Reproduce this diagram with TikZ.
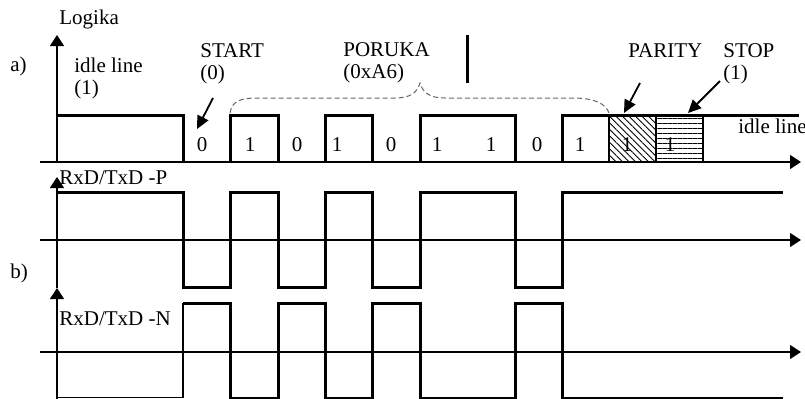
\documentclass[tikz,border=0pt]{standalone}
\usepackage{fontspec}
\setmainfont{Liberation Serif}
\usetikzlibrary{arrows.meta,patterns.meta}
\begin{document}
\begin{tikzpicture}[x=0.5pt,y=-0.5pt,
  lbl/.style={inner sep=0pt,anchor=base west,font=\fontsize{10.5}{12}\selectfont},
  bit/.style={inner sep=0pt,anchor=base,font=\fontsize{10.5}{12}\selectfont},
  sig/.style={line width=1.5pt,line join=miter},
  thinline/.style={line width=0.6pt},
  axis/.style={line width=0.6pt,-{Triangle[length=5.5pt,width=7pt]}},
  pointer/.style={line width=0.9pt,-{Triangle[length=6.5pt,width=6pt]}},
  brace/.style={line width=0.5pt,gray!80!black,dash pattern=on 2.5pt off 1.5pt},
]
\fill[white] (0,0) rectangle (805,398);
\useasboundingbox (0,0) rectangle (805,398);

% ---------- a) ----------
\node[lbl] (logika) at (59,24) {Logika};
\node[lbl] (a) at (10,71) {a)};
\node[lbl] (idle1) at (74,72) {idle line};
\node[lbl] (idle1v) at (74,94) {(1)};
\node[lbl] (start) at (200,57) {START};
\node[lbl] (startv) at (200,79) {(0)};
\node[lbl] (poruka) at (343,56) {PORUKA};
\node[lbl] (porukav) at (343,78) {(0xA6)};
\node[lbl] (parity) at (628,57) {PARITY};
\node[lbl] (stop) at (723,57) {STOP};
\node[lbl] (stopv) at (723,79) {(1)};
\node[lbl] (idle2) at (738,133) {idle line};

% axes
\coordinate (ax0) at (40,162);
\coordinate (ax1) at (801,162);
\coordinate (ay0) at (57,162);
\coordinate (ay1) at (57,35);
\draw[axis] (ax0) -- (ax1);
\draw[axis] (ay0) -- (ay1);

% hatched parity and stop bits
\fill[pattern={Lines[angle=-45,distance=2.3pt,line width=0.45pt]}] (609,115) rectangle (656,162);
\draw[thinline] (609,115) rectangle (656,162);
\fill[pattern={Lines[angle=0,distance=2.5pt,line width=0.45pt]}] (656,115) rectangle (703,162);
\draw[thinline] (656,115) rectangle (703,162);

% logic signal
\draw[sig] (57,115) -- (183,115) -- (183,162);
\draw[sig] (230,162) -- (230,115) -- (278,115) -- (278,162);
\draw[sig] (325,162) -- (325,115) -- (372,115) -- (372,162);
\draw[sig] (420,162) -- (420,115) -- (515,115) -- (515,162);
\draw[sig] (562,162) -- (562,115) -- (799,115);

% bit values
\foreach \x/\v [count=\i] in {202/0,250/1,297/0,337/1,391/0,437/1,491/1,537/0,580/1,627/1,670/1}
  \node[bit] (b\i) at (\x,151) {\v};

% brace over the message
\draw[brace] (230,113) .. controls (232,101) and (240,98) .. (258,98)
  -- (395,98) .. controls (410,98) and (417,93) .. (420,83)
  .. controls (423,93) and (430,98) .. (445,98)
  -- (573,98) .. controls (595,98) and (606,104) .. (609,113);

% separator bar
\coordinate (bar0) at (467,35);
\coordinate (bar1) at (467,83);
\draw[line width=1.5pt] (bar0) -- (bar1);

% pointers
\coordinate (sp0) at (213,98);  \coordinate (sp1) at (197,129);
\coordinate (pp0) at (640,83);  \coordinate (pp1) at (624,113);
\coordinate (tp0) at (720,81);  \coordinate (tp1) at (688,113);
\draw[pointer] (sp0) -- (sp1);
\draw[pointer] (pp0) -- (pp1);
\draw[pointer] (tp0) -- (tp1);

% ---------- b) ----------
\node[lbl] (b) at (10,278) {b)};
\node[lbl] (rxp) at (59,184) {RxD/TxD -P};
\node[lbl] (rxn) at (59,325) {RxD/TxD -N};

\coordinate (px0) at (40,240);  \coordinate (px1) at (801,240);
\coordinate (nx0) at (40,352);  \coordinate (nx1) at (801,352);
\coordinate (py0) at (57,288);  \coordinate (py1) at (57,177);
\coordinate (ny0) at (57,400);  \coordinate (ny1) at (57,288);
\draw[axis] (px0) -- (px1);
\draw[axis] (nx0) -- (nx1);
\draw[axis] (py0) -- (py1);
\draw[axis] (ny0) -- (ny1);

% P signal
\draw[sig] (57,192) -- (183,192) -- (183,287) -- (230,287) -- (230,192)
  -- (278,192) -- (278,287) -- (325,287) -- (325,192) -- (372,192)
  -- (372,287) -- (420,287) -- (420,192) -- (515,192) -- (515,287)
  -- (562,287) -- (562,192) -- (783,192);

% N signal
\draw[thinline] (57,397.5) -- (183,397.5) -- (183,303);
\draw[sig] (183,303) -- (230,303) -- (230,398) -- (278,398) -- (278,303)
  -- (325,303) -- (325,398) -- (372,398) -- (372,303) -- (420,303)
  -- (420,398) -- (515,398) -- (515,303) -- (562,303) -- (562,398)
  -- (783,398);
\end{tikzpicture}
\end{document}
